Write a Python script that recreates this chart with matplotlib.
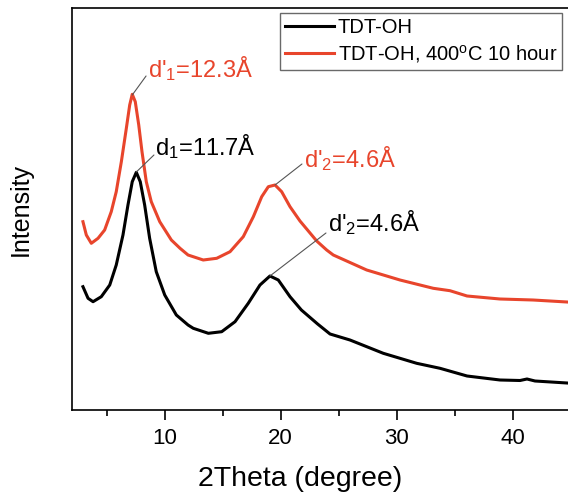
import matplotlib
matplotlib.use("Agg")
import matplotlib.pyplot as plt

plt.rcParams['font.family'] = ['Liberation Sans', 'DejaVu Sans']
plt.rcParams['mathtext.default'] = 'regular'

# 2Theta (degree) and intensity (a.u.)
theta_black = [2.97, 3.41, 3.84, 4.55, 5.28, 5.84, 6.42, 6.85, 7.22, 7.57, 7.91, 8.29,
               8.72, 9.29, 10.02, 11.02, 12.03, 12.48, 13.78, 14.93, 16.08, 17.22,
               18.23, 19.09, 19.81, 20.82, 21.80, 23.20, 24.27, 25.99, 28.86, 31.74,
               33.75, 36.08, 38.92, 40.65, 41.25, 41.94, 44.70]
int_black = [123.3, 111.7, 108.3, 113.3, 125, 145, 175, 205, 228.3, 237.7, 228.3, 205,
             171.7, 138.3, 115, 95, 85, 81.7, 76.7, 78.3, 88.3, 106.7,
             125, 134, 130, 113.3, 100, 86, 76, 70, 56.7, 46.7,
             41.7, 34, 30, 29.5, 31, 29, 27]

theta_red = [2.97, 3.26, 3.69, 4.27, 4.84, 5.41, 5.84, 6.28, 6.71, 7.00, 7.22, 7.48,
             7.78, 8.06, 8.43, 8.86, 9.59, 10.59, 11.34, 12.03, 13.34, 14.50, 15.65,
             16.79, 17.66, 18.38, 18.95, 19.53, 20.10, 20.82, 21.68, 23.12, 23.98,
             24.55, 27.43, 30.30, 33.17, 34.61, 36.08, 38.92, 41.77, 44.70]
int_red = [188.3, 175, 166.7, 171.7, 180, 198.3, 218.3, 248.3, 281.7, 305, 315.7, 308.3,
           285, 258.3, 228.3, 208.3, 188.3, 170, 161.7, 155, 150, 151.7, 158.3,
           173.3, 193.3, 213.3, 223.3, 225, 218.3, 203.3, 189, 169, 160,
           155, 140, 130, 121.7, 119.3, 114, 111, 110, 108]

labels = ['TDT-OH', 'TDT-OH, 400$^{o}$C 10 hour']
red = '#e8452c'

W, H = 568, 493
fig = plt.figure(figsize=(W / 100, H / 100), dpi=100)
left, right, top, bottom = 71.7, 570.5, 8.3, 410
ax = fig.add_axes([left / W, (H - bottom) / H, (right - left) / W, (bottom - top) / H])

ax.plot(theta_black, int_black, color='black', lw=2.2, label=labels[0])
ax.plot(theta_red, int_red, color=red, lw=2.2, label=labels[1])

ax.set_xlim(2, 45)
ax.set_ylim(0, 401.7)
ax.set_xticks([10, 20, 30, 40])
ax.set_xticks([5, 15, 25, 35], minor=True)
ax.set_yticks([])
ax.tick_params(axis='x', which='major', length=7, width=1.2, labelsize=16, pad=6)
ax.tick_params(axis='x', which='minor', length=4, width=1.2)
ax.spines['right'].set_visible(False)
for s in ['left', 'top', 'bottom']:
    ax.spines[s].set_linewidth(1.2)

ax.set_xlabel('2Theta (degree)', fontsize=20.5)
ax.xaxis.set_label_coords(0.458, -0.14)
ax.set_ylabel('Intensity', fontsize=18)
ax.yaxis.set_label_coords(-0.078, 0.5)

lp = dict(arrowstyle='-', color='#555555', lw=0.8, shrinkA=0, shrinkB=0)
fs = 17
# red d'1
ax.annotate('', xy=(7.22, 315), xytext=(8.41, 334), arrowprops=lp)
ax.text(8.55, 333, "d'$_1$=12.3Å", color=red, fontsize=fs, va='baseline', ha='left')
# black d1
ax.annotate('', xy=(7.57, 238), xytext=(9.09, 255), arrowprops=lp)
ax.text(9.18, 255, "d$_1$=11.7Å", color='black', fontsize=fs, va='baseline', ha='left')
# red d'2
ax.annotate('', xy=(19.53, 225), xytext=(21.85, 246), arrowprops=lp)
ax.text(22.03, 243, "d'$_2$=4.6Å", color=red, fontsize=fs, va='baseline', ha='left')
# black d'2
ax.annotate('', xy=(19.09, 134), xytext=(23.92, 177), arrowprops=lp)
ax.text(24.09, 179, "d'$_2$=4.6Å", color='black', fontsize=fs, va='baseline', ha='left')

leg = ax.legend(loc='upper right', bbox_to_anchor=(0.983, 0.989), fontsize=14.5,
                frameon=True, fancybox=False, borderaxespad=0, handlelength=2.4,
                handletextpad=0.2, labelspacing=0.3, borderpad=0.25)
leg.get_frame().set_edgecolor('#444444')
leg.get_frame().set_linewidth(1.0)

fig.savefig('out.png', dpi=100)
